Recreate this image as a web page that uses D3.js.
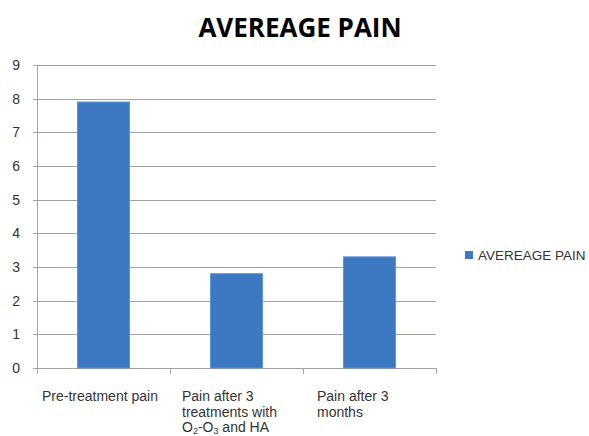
<!DOCTYPE html>
<html>
<head>
<meta charset="utf-8">
<script src="https://cdn.jsdelivr.net/npm/d3@7"></script>
<style>
body { margin: 0; background: #fff; }
svg { font-family: "Liberation Sans", Arial, sans-serif; }
</style>
</head>
<body>
<script>
// data
const categories = ['Pre-treatment pain', 'Pain after 3 treatments', 'Pain after 3 months'];
const values = [7.9, 2.8, 3.3];
const yTicks = [0, 1, 2, 3, 4, 5, 6, 7, 8, 9];
const seriesName = 'AVEREAGE PAIN';
// wrapped label lines; [text, subscript] pieces
const labelLines = [
    [[['Pre-treatment pain']]],
    [[['Pain after 3']], [['treatments with']], [['O', '2'], ['-O', '3'], [' and HA']]],
    [[['Pain after 3']], [['months']]]
];
const labelOffset = [5, 12, 14];

const W = 589, H = 436;
const margin = {top: 65, left: 37, right: 153, bottom: 68};
const width = W - margin.left - margin.right;
const height = H - margin.top - margin.bottom;

const root = d3.select('body').append('svg')
    .attr('width', W)
    .attr('height', H);

root.append('text')
    .attr('x', 300)
    .attr('y', 37)
    .attr('text-anchor', 'middle')
    .attr('font-family', '"Open Sans", sans-serif')
    .attr('font-weight', 'bold')
    .attr('font-size', '26px')
    .attr('fill', '#000')
    .text(seriesName);

const svg = root.append('g')
    .attr('transform', 'translate(' + margin.left + ',' + margin.top + ')');

const x = d3.scaleBand().domain(categories).range([0, width]);
const y = d3.scaleLinear().domain([0, 9]).range([height, 0]);

// grid lines
svg.append('g')
    .selectAll('line')
    .data(yTicks)
    .enter().append('line')
    .attr('x1', -4)
    .attr('x2', width)
    .attr('y1', d => Math.round(y(d)) + 0.5)
    .attr('y2', d => Math.round(y(d)) + 0.5)
    .attr('stroke', '#a8a09a')
    .attr('stroke-width', 1);

// left axis line
svg.append('line')
    .attr('x1', 0.5).attr('x2', 0.5)
    .attr('y1', 0).attr('y2', height)
    .attr('stroke', '#a8a09a');

// y labels
svg.append('g')
    .selectAll('text')
    .data(yTicks)
    .enter().append('text')
    .attr('x', -17)
    .attr('y', d => y(d) + 5)
    .attr('text-anchor', 'end')
    .attr('font-size', '14px')
    .attr('fill', '#333')
    .text(d => d);

// category ticks
const tickX = categories.map(c => x(c)).concat([width]);
svg.append('g')
    .selectAll('line')
    .data(tickX)
    .enter().append('line')
    .attr('x1', d => Math.round(d) + 0.5)
    .attr('x2', d => Math.round(d) + 0.5)
    .attr('y1', height)
    .attr('y2', height + 6)
    .attr('stroke', '#a8a09a');

// bars
const barW = x.bandwidth() * 0.39;
svg.append('g')
    .selectAll('rect')
    .data(values)
    .enter().append('rect')
    .attr('x', (d, i) => x(categories[i]) + x.bandwidth() / 2 - barW / 2)
    .attr('y', d => y(d))
    .attr('width', barW)
    .attr('height', d => height - y(d))
    .attr('fill', '#3d78c3')
    .attr('stroke', '#5a8fd2')
    .attr('stroke-width', 1);

// category labels
categories.forEach(function(c, i) {
    const t = svg.append('text')
        .attr('font-size', '14px')
        .attr('fill', '#333');
    labelLines[i].forEach(function(line, j) {
        const ln = t.append('tspan')
            .attr('x', x(c) + labelOffset[i])
            .attr('y', height + 33 + j * 15.5);
        let shift = 0;
        line.forEach(function(part) {
            ln.append('tspan').attr('dy', -shift).text(part[0]);
            shift = 0;
            if (part[1]) {
                ln.append('tspan')
                    .attr('font-size', '9px')
                    .attr('dy', 2)
                    .text(part[1]);
                shift = 2;
            }
        });
    });
});

// legend
const legend = root.append('g')
    .attr('transform', 'translate(465,251)');
legend.append('rect')
    .attr('width', 8)
    .attr('height', 8)
    .attr('fill', '#3d78c3');
legend.append('text')
    .attr('x', 13)
    .attr('y', 9)
    .attr('font-size', '13.5px')
    .attr('fill', '#333')
    .text(seriesName);
</script>
</body>
</html>
